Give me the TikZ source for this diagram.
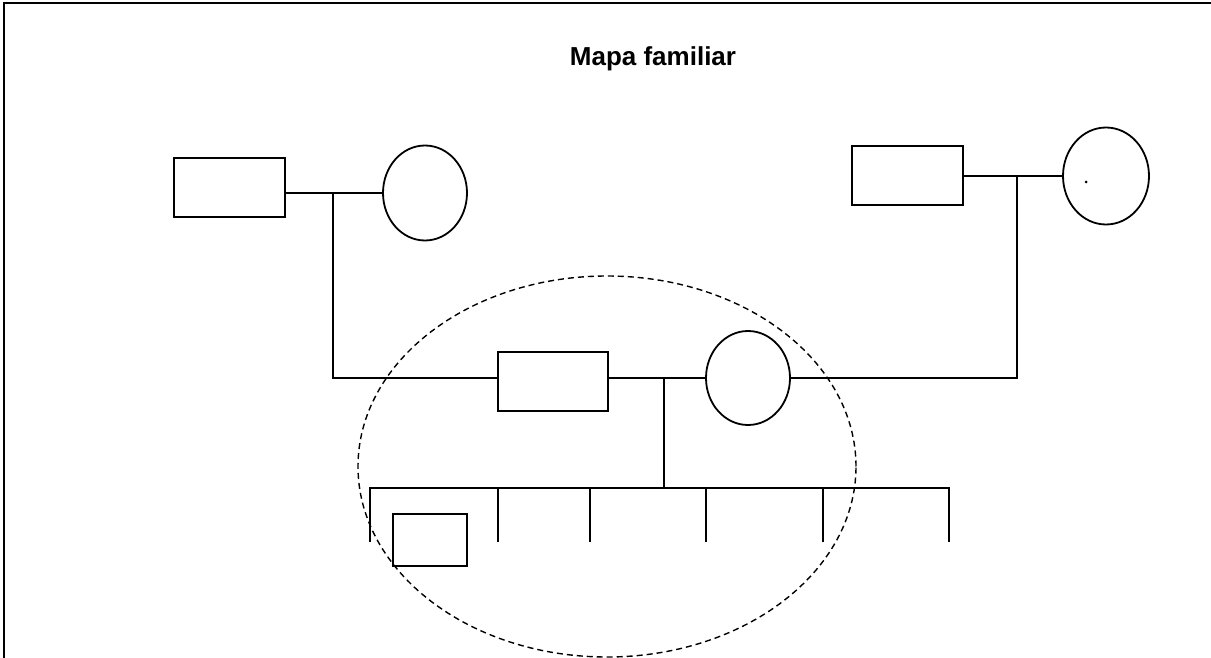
\documentclass[tikz,border=0pt]{standalone}
\usepackage{fontspec}
\setmainfont{Liberation Sans}
\usetikzlibrary{shapes.geometric}
\begin{document}
\begin{tikzpicture}[x=1pt,y=-1pt,line width=1.8pt,
  male/.style={draw,rectangle,inner sep=0pt,minimum width=#1},
  female/.style={draw,ellipse,inner sep=0pt},
  grp/.style={draw,ellipse,inner sep=0pt,line width=1.4pt,dash pattern=on 6pt off 4pt}]
\useasboundingbox (0,0) rectangle (1211,658);
% frame (top and left edges)
\draw[line width=1.8pt] (4,658) -- (4,3) -- (1211,3);
% title
\node[anchor=base,font=\bfseries\fontsize{26}{30}\selectfont] (title) at (653,66) {Mapa familiar};
% generation 1 left
\node[male=111pt,minimum height=59pt] (A) at (229.5,187.5) {};
\node[female,minimum width=84pt,minimum height=95pt] (B) at (425,193) {};
% generation 1 right
\node[male=111pt,minimum height=59pt] (F) at (907.5,175.5) {};
\node[female,minimum width=86pt,minimum height=97pt] (G) at (1106,176) {};
\node[circle,fill,inner sep=0pt,minimum size=3pt] (dot) at (1086,182) {};
% generation 2
\node[male=110pt,minimum height=59pt] (C) at (553,381.5) {};
\node[female,minimum width=84pt,minimum height=94pt] (D) at (748,378) {};
% child
\node[male=74pt,minimum height=52pt] (E) at (430,540) {};
% group ellipse
\node[grp,minimum width=498pt,minimum height=381pt] (grp) at (607,466.5) {};
% junctions
\coordinate (j1) at (333,193);
\coordinate (j1b) at (333,378);
\coordinate (j2) at (1017,176);
\coordinate (j2b) at (1017,378);
\coordinate (j3) at (664,378);
\coordinate (j3b) at (664,488);
\coordinate (bl) at (370,488);
\coordinate (br) at (949,488);
\coordinate (c1) at (370,542);
\coordinate (c2) at (498,542);
\coordinate (c3) at (590,542);
\coordinate (c4) at (706,542);
\coordinate (c5) at (823,542);
\coordinate (c6) at (949,542);
% connectors
\draw (A.east |- j1) -- (B.west |- j1);
\draw (j1) -- (j1b) -- (C.west |- j1b);
\draw (F.east |- j2) -- (G.west |- j2);
\draw (j2) -- (j2b) -- (D.east |- j2b);
\draw (C.east |- j3) -- (D.west |- j3);
\draw (j3) -- (j3b);
\draw (c1) -- (bl) -- (br) -- (c6);
\draw (c2 |- bl) -- (c2);
\draw (c3 |- bl) -- (c3);
\draw (c4 |- bl) -- (c4);
\draw (c5 |- bl) -- (c5);
\end{tikzpicture}
\end{document}
